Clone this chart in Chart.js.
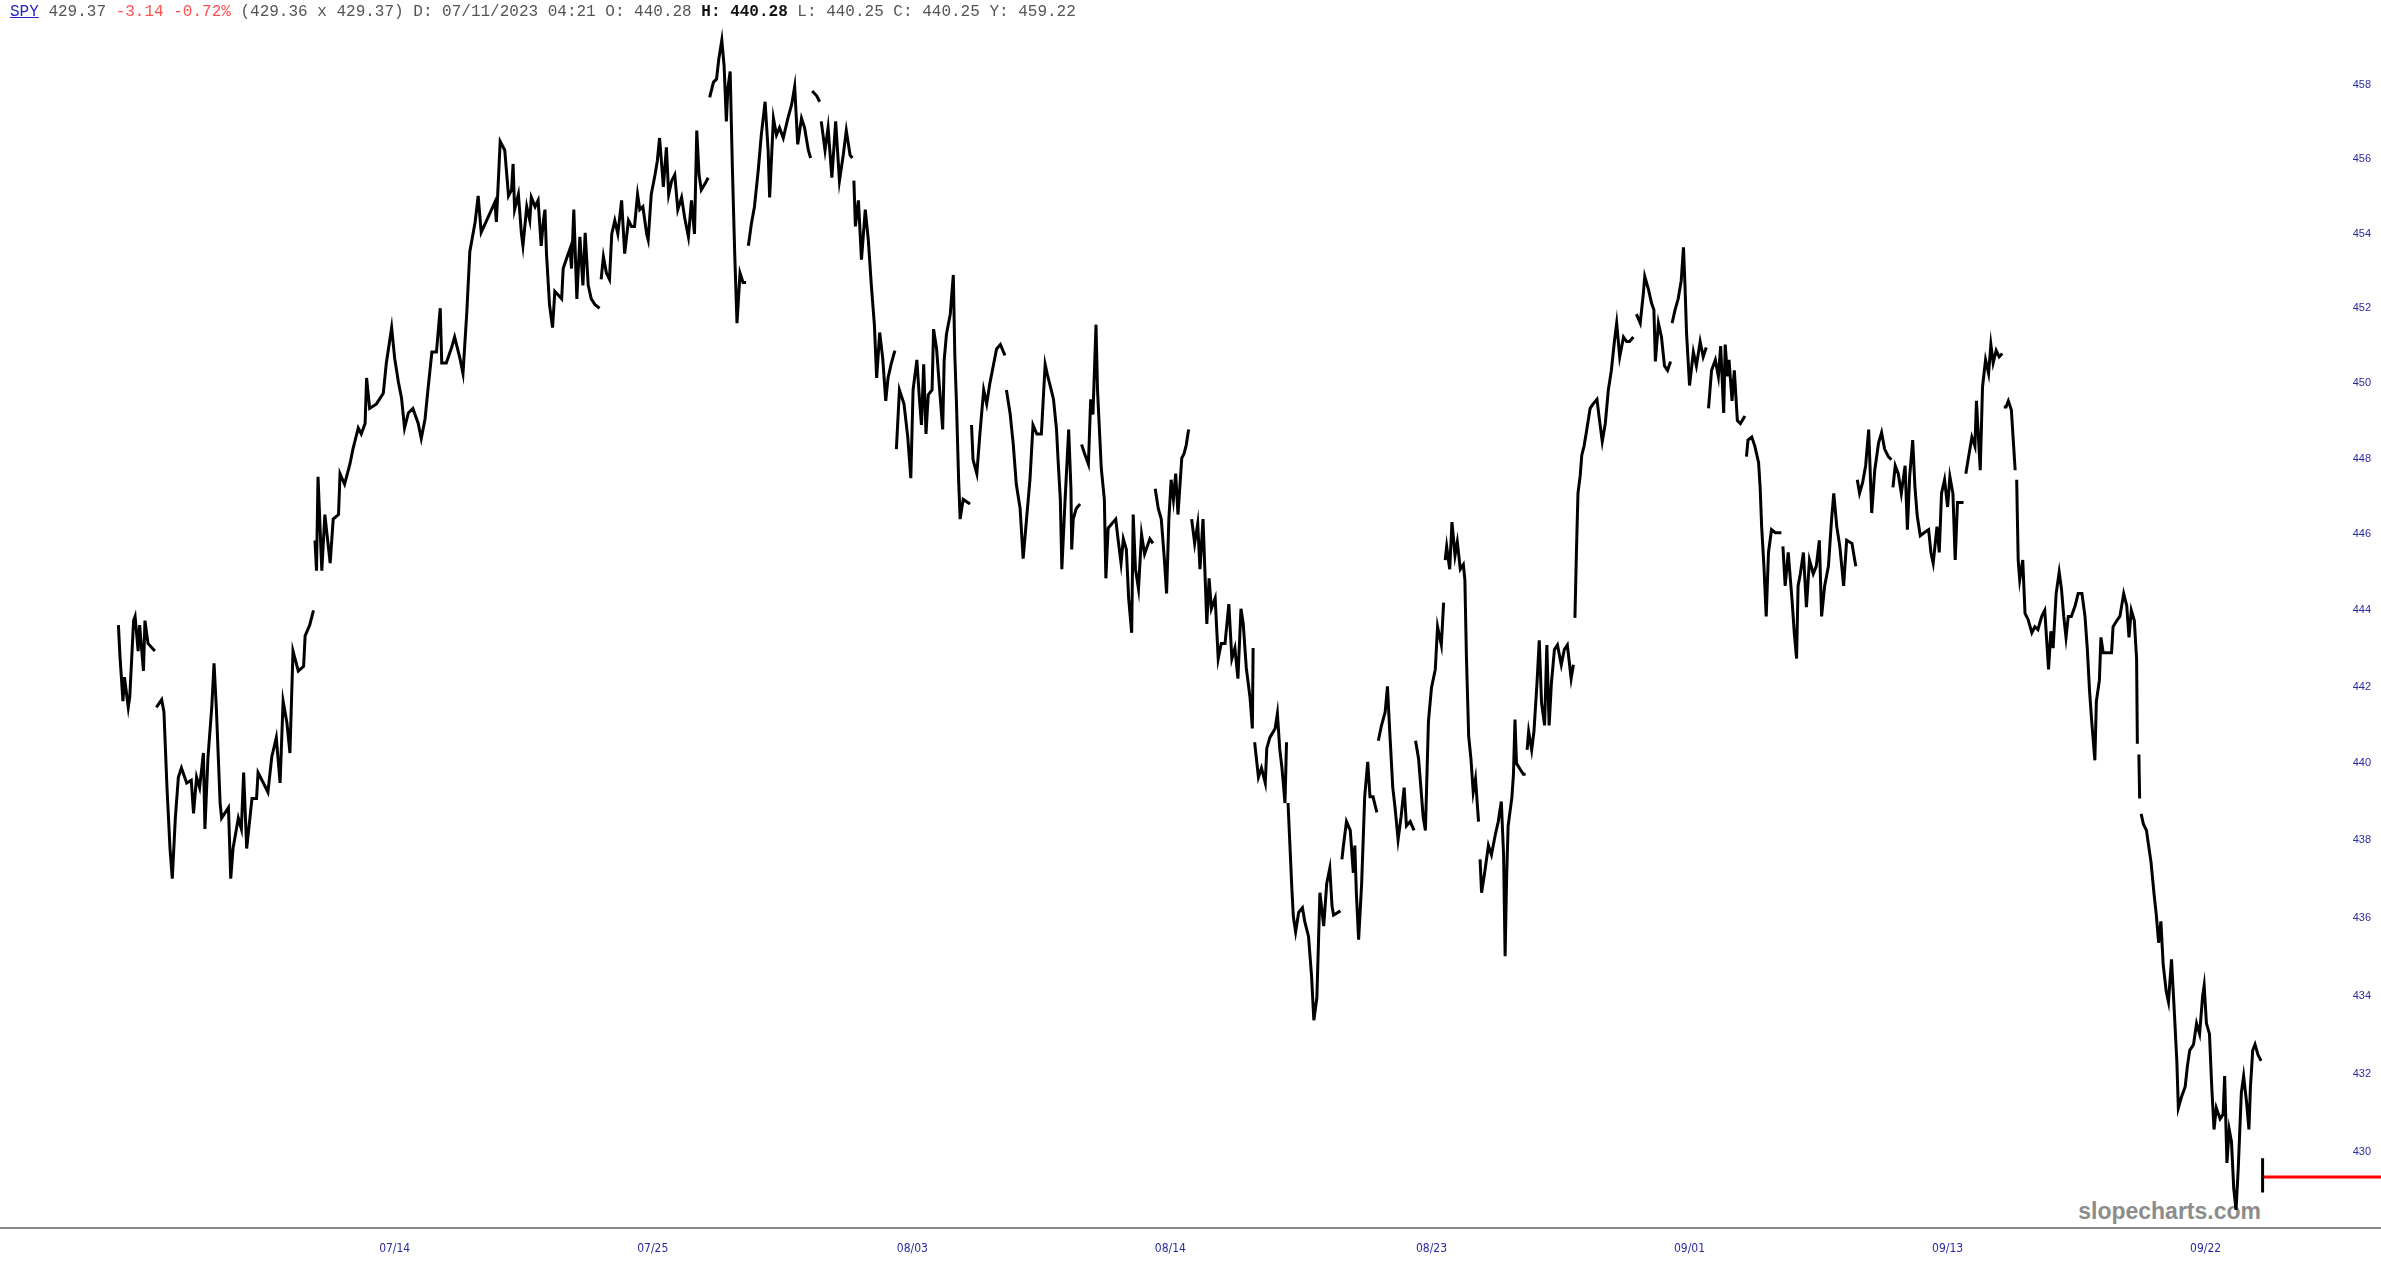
<!DOCTYPE html>
<html>
<head>
<meta charset="utf-8">
<title>SPY</title>
<script src="https://cdn.jsdelivr.net/npm/chart.js@4.4.0/dist/chart.umd.min.js"></script>
<style>
  html, body { margin: 0; padding: 0; background: #fff; }
  #wrap { position: relative; width: 2381px; height: 1269px; overflow: hidden; }
  #chart { position: absolute; left: 0; top: 0; z-index: 2; }
  #quote { position: absolute; left: 10px; top: 4px; z-index: 3;
           font: 16px/16px 'Liberation Mono', 'Courier New', monospace; color: #555; white-space: pre; }
  #quote .sym { color: #2323c8; text-decoration: underline; }
  #quote .neg { color: #ff5050; }
  #quote b { color: #111; }
  #mark { position: absolute; right: 120px; top: 1200px; z-index: 1;
          font: bold 23px/23px 'Liberation Sans', Arial, sans-serif; color: #8c8c8c; }
</style>
</head>
<body>
<div id="wrap">
  <div id="mark">slopecharts.com</div>
  <canvas id="chart" width="2381" height="1269"></canvas>
  <div id="quote"><span class="sym">SPY</span> 429.37 <span class="neg">-3.14 -0.72%</span> (429.36 x 429.37) D: 07/11/2023 04:21 O: 440.28 <b>H: 440.28</b> L: 440.25 C: 440.25 Y: 459.22</div>
</div>
<script>
// bar number (time index) , price ; null = session break
const julyPath = [
  [0,443.61],[2,442.81],[6,441.62],[8,442.25],[13,441.46],[15,441.74],[20,443.73],[22,443.84],[26,442.93],[28,443.61],
  [33,442.41],[35,443.73],[39,443.13],[48,442.93],[49,null],
  [50,441.46],[57,441.66],[60,441.34],[64,439.37],[68,437.79],[71,437.01],[75,438.58],[79,439.64],[83,439.88],[90,439.49],
  [96,439.56],[99,438.70],[103,439.64],[107,439.37],[112,440.27],[114,438.30],[118,440.16],[123,441.46],[126,442.61],[129,441.46],
  [134,438.97],[136,438.58],[145,438.85],[148,437.01],[151,437.79],[158,438.58],[162,438.30],[165,439.76],[169,437.79],[176,439.09],
  [182,439.09],[184,439.76],[191,439.49],[197,439.25],[202,440.16],[208,440.67],[213,439.49],[217,441.62],[222,441.06],[226,440.27],
  [230,442.93],[237,442.41],[244,442.53],[246,443.33],[252,443.61],[257,444.00],[258,null],
  [259,445.84],[261,445.04],[263,447.52],[268,445.04],[272,446.52],[279,445.24],[283,446.40],[290,446.52],[292,447.60],[298,447.32],
  [305,447.85],[309,448.25],[316,448.81],[320,448.65],[325,448.93],[327,450.14],[331,449.33],[340,449.45],[349,449.73],[353,450.54],
  [360,451.48],[364,450.66],[369,450.02],[373,449.61],[377,448.81],[382,449.21],[388,449.33],[395,448.93],[399,448.53],[404,449.05],
  [408,449.86],[413,450.83],[419,450.83],[424,452.00],[426,450.54],[432,450.54],[439,450.95],[443,451.23],[450,450.66],[454,450.26],
  [459,451.88],[463,453.51],[470,454.31],[474,455.01],[478,454.03],[487,454.43],[496,454.84],[498,454.31],[503,456.48],[509,456.24],
  [514,455.01],[518,455.17],[520,455.87],[522,454.64],[527,455.05],[531,453.99],[533,453.67],[538,454.72],[542,454.35],[544,454.97],
  [549,454.72],[553,454.89],[557,453.67],[560,454.35],[562,454.64],[564,453.46],[568,452.09],[572,451.48],[575,452.45],[584,452.25],
  [586,453.06],[590,453.30],[595,453.59],[597,453.06],[600,454.64],[604,452.25],[608,453.91],[612,452.61],[615,454.02],[619,452.61],
  [623,452.25],[628,452.09],[634,452.00],[635,null],
  [636,452.77],[639,453.38],[643,452.94],[647,452.77],[650,453.99],[654,454.35],[658,453.99],[663,454.89],[667,453.46],[672,454.35],
  [676,454.19],[680,454.19],[684,455.05],[687,454.64],[691,454.72],[696,453.99],[698,453.83],[702,455.05],[707,455.58],[710,455.95],
  [713,456.57],[716,455.79],[718,455.25],[722,456.32],[725,455.05],[729,455.42],[733,455.58],[737,454.64],[742,454.97],[746,454.43],
  [751,453.91],[755,454.89],[759,453.99],[762,456.77],[765,455.58],[768,455.17],[773,455.34],[777,455.50],[778,null],
  [779,457.67],[784,458.08],[788,458.16],[791,458.70],[795,459.22],[798,458.53],[801,457.02],[803,457.92],[806,458.37],[809,455.70],
  [812,453.46],[815,451.60],[819,452.94],[823,452.69],[827,452.69],[828,null],
  [830,453.67],[834,454.27],[838,454.72],[843,455.70],[847,456.65],[852,457.55],[856,456.24],[858,454.97],[863,457.10],[867,456.65],
  [871,456.85],[876,456.57],[882,457.10],[887,457.47],[891,457.96],[895,456.40],[900,457.10],[904,456.85],[909,456.24],[912,456.03],
  [913,null],[914,457.84],[920,457.71],[924,457.55]
];

const augustPath = [
  [925,null],[926,457.02],[931,456.24],[935,456.85],[940,455.50],[945,457.02],[950,455.42],[955,456.11],[959,456.77],[964,456.11],
  [967,456.03],[968,null],
  [969,455.42],[971,454.19],[975,454.89],[979,453.30],[984,454.64],[988,453.83],[992,452.61],[996,451.56],[999,450.14],[1003,451.35],
  [1007,450.66],[1011,449.53],[1014,450.14],[1018,450.50],[1023,450.87],[1024,null],
  [1025,448.25],[1029,449.82],[1035,449.45],[1040,448.57],[1044,447.48],[1047,449.82],[1052,450.62],[1055,449.69],[1058,448.89],[1061,450.50],
  [1064,448.65],[1067,449.69],[1072,449.82],[1074,451.44],[1078,450.91],[1082,449.82],[1086,448.77],[1088,450.62],[1091,451.31],[1096,451.84],
  [1100,452.89],[1102,450.74],[1104,449.57],[1107,447.44],[1109,446.40],[1113,446.92],[1122,446.80],[1123,null],
  [1124,448.89],[1126,447.97],[1131,447.60],[1135,448.65],[1140,449.82],[1144,449.45],[1148,449.98],[1153,450.50],[1157,450.91],[1162,451.03],
  [1168,450.74],[1169,null],
  [1170,449.82],[1175,449.17],[1179,448.37],[1183,447.32],[1188,446.68],[1192,445.36],[1197,446.52],[1201,447.44],[1205,448.89],[1210,448.65],
  [1216,448.65],[1221,450.50],[1224,450.22],[1229,449.82],[1232,449.57],[1236,448.77],[1238,447.97],[1241,446.92],[1243,445.08],[1247,446.80],
  [1252,448.77],[1255,447.20],[1256,445.60],[1258,446.40],[1262,446.68],[1267,446.80],[1268,null],
  [1269,448.37],[1273,448.13],[1278,447.85],[1281,449.57],[1284,449.17],[1288,451.56],[1290,449.82],[1295,447.73],[1299,446.92],[1301,444.84],
  [1304,446.16],[1309,446.28],[1314,446.40],[1317,445.88],[1321,445.24],[1324,445.88],[1328,445.60],[1331,444.32],[1335,443.41],[1337,446.52],
  [1340,445.08],[1344,444.56],[1348,446.00],[1352,445.48],[1359,445.88],[1363,445.76],[1364,null],
  [1366,447.20],[1370,446.68],[1374,446.40],[1378,445.36],[1381,444.44],[1384,446.40],[1387,447.44],[1390,446.92],[1393,447.60],[1396,446.52],
  [1401,448.01],[1404,448.13],[1407,448.37],[1410,448.77],[1411,null],
  [1414,446.40],[1418,445.76],[1422,446.28],[1425,445.08],[1429,446.40],[1434,443.64],[1437,444.84],[1440,444.04],[1445,444.32],[1449,442.73],
  [1453,443.13],[1458,443.13],[1463,444.16],[1467,442.73],[1471,443.01],[1475,442.21],[1479,444.04],[1482,443.64],[1486,442.49],[1491,441.70],
  [1494,440.91],[1495,443.01],[1496,null],
  [1497,440.55],[1502,439.64],[1506,439.88],[1511,439.49],[1513,440.39],[1517,440.67],[1524,440.91],[1527,441.30],[1530,440.39],[1533,439.88],
  [1537,438.97],[1539,440.55],[1540,null],
  [1541,438.97],[1546,436.77],[1548,436.03],[1551,435.64],[1555,436.14],[1560,436.26],[1563,435.91],[1568,435.52],[1572,434.50],[1575,433.37],
  [1579,433.95],[1583,436.65],[1588,435.79],[1592,436.89],[1596,437.28],[1599,436.30],[1601,436.07],[1610,436.18],[1611,null],
  [1612,437.51],[1614,437.87],[1618,438.49],[1623,438.26],[1627,437.16],[1629,437.87],[1631,436.65],[1634,435.44],[1638,436.89],[1642,439.13],
  [1646,440.04],[1649,439.13],[1653,439.13],[1658,438.73],[1659,null],
  [1660,440.59],[1664,440.98],[1669,441.34],[1672,442.01],[1675,440.83],[1679,439.37],[1682,438.85],[1686,438.02],[1690,438.62],[1694,439.37],
  [1697,438.38],[1702,438.49],[1707,438.26],[1708,null],
  [1709,440.59],[1713,440.12],[1717,439.13],[1719,438.62],[1722,438.26],[1726,441.10],[1730,441.97],[1735,442.45],[1738,443.57],[1743,443.09],
  [1746,444.20],[1747,null],
  [1748,445.32],[1750,445.68],[1754,445.08],[1757,446.32],[1761,445.44],[1764,445.80],[1768,445.08],[1772,445.20],[1774,444.80],[1776,442.81],
  [1779,440.71],[1782,440.12],[1785,439.25],[1788,439.60],[1792,438.49],[1793,null],
  [1794,437.51],[1796,436.65],[1800,437.16],[1805,437.87],[1809,437.63],[1814,438.14],[1818,438.49],[1822,439.01],[1825,437.63],[1827,435.01],
  [1829,437.04],[1831,438.38],[1836,439.13],[1838,439.72],[1840,441.14],[1842,440.00],[1847,439.84],[1851,439.72],[1854,439.72],[1855,null],
  [1856,440.35],[1858,440.83],[1862,440.35],[1865,440.83],[1869,442.09],[1872,443.21],[1875,441.58],[1879,440.99],[1882,443.09],[1885,440.99],
  [1888,442.09],[1892,442.97],[1896,443.09],[1901,442.57],[1905,442.97],[1909,443.09],[1914,442.21],[1917,442.57],[1918,null],
  [1919,443.80],[1921,445.56],[1923,447.08],[1926,447.56],[1928,448.09],[1931,448.33],[1934,448.69],[1939,449.33],[1943,449.45],[1948,449.57],
  [1951,449.08],[1955,448.45],[1959,448.93],[1963,449.82],[1967,450.34],[1971,451.11],[1974,451.60],[1978,450.70],[1983,451.23],[1987,451.11],
  [1991,451.11],[1996,451.23],[1997,null],
  [2000,451.84],[2005,451.60],[2009,452.37],[2011,452.85],[2016,452.49],[2020,452.13],[2023,451.96],[2025,450.58],[2029,451.60],[2033,451.23],
  [2037,450.46],[2041,450.34],[2045,450.58]
];

const septemberPath = [
  [2046,null],[2047,451.60],[2051,451.96],[2055,452.25],[2059,452.73],[2062,453.63],[2064,452.61],[2066,451.35],[2070,449.94],[2075,450.83],
  [2079,450.46],[2084,451.11],[2088,450.70],[2092,450.95],[2093,null],
  [2095,449.33],[2099,450.34],[2104,450.62],[2108,450.18],[2111,450.99],[2115,449.21],[2117,451.03],[2120,450.18],[2122,450.62],[2126,449.53],
  [2129,450.34],[2133,449.01],[2137,448.93],[2143,449.13],[2144,null],
  [2145,448.05],[2147,448.49],[2152,448.57],[2156,448.33],[2161,447.89],[2163,447.24],[2165,446.20],[2168,445.16],[2171,443.84],[2174,445.52],
  [2178,446.12],[2183,446.04],[2191,446.04],[2192,null],
  [2193,445.68],[2196,444.64],[2200,445.52],[2205,444.28],[2208,443.41],[2211,442.73],[2213,444.64],[2216,444.96],[2220,445.52],[2224,444.08],
  [2228,445.32],[2233,444.96],[2237,445.16],[2241,445.84],[2244,443.84],[2248,444.64],[2253,445.16],[2257,446.36],[2260,447.08],[2264,446.20],
  [2268,445.68],[2273,444.64],[2277,445.84],[2284,445.76],[2289,445.16],[2290,null],
  [2291,447.44],[2294,447.08],[2298,447.36],[2302,447.81],[2306,448.77],[2310,446.56],[2314,447.69],[2319,448.41],[2323,448.69],[2327,448.25],
  [2332,448.05],[2336,447.97],[2337,null],
  [2338,447.24],[2341,447.81],[2345,447.60],[2349,447.08],[2354,447.81],[2357,446.12],[2360,447.52],[2364,448.49],[2367,447.24],[2370,446.48],
  [2374,445.96],[2379,446.04],[2385,446.12],[2388,445.52],[2391,445.24],[2396,446.20],[2399,445.52],[2402,447.08],[2406,447.44],[2410,446.72],
  [2413,447.52],[2417,447.08],[2420,445.32],[2423,446.84],[2427,446.84],[2431,446.84],[2432,null],
  [2434,447.60],[2437,447.97],[2442,448.57],[2446,448.33],[2448,449.53],[2453,447.69],[2456,449.90],[2460,450.62],[2464,450.26],[2467,451.03],
  [2470,450.54],[2474,450.87],[2478,450.70],[2482,450.79],[2483,null],
  [2484,449.37],[2487,449.37],[2490,449.53],[2494,449.29],[2497,448.33],[2499,447.69],[2500,null],
  [2501,447.44],[2502,446.36],[2503,445.32],[2505,444.80],[2509,445.32],[2512,443.92],[2516,443.76],[2521,443.41],[2525,443.57],[2529,443.49],
  [2534,443.84],[2538,444.00],[2543,442.45],[2546,443.45],[2549,443.01],[2553,444.44],[2557,445.00],[2560,444.56],[2563,443.84],[2566,443.29],
  [2569,443.84],[2573,443.84],[2578,444.12],[2582,444.44],[2587,444.44],[2591,443.84],[2594,443.01],[2597,441.89],[2600,441.06],[2604,440.08],
  [2606,441.62],[2610,442.17],[2612,443.29],[2615,442.89],[2620,442.89],[2626,442.89],[2628,443.57],[2633,443.73],[2637,443.84],[2642,444.44],
  [2646,444.12],[2649,443.29],[2652,444.00],[2656,443.73],[2659,442.73],[2660,440.51],[2661,null],[2662,440.23],[2663,439.09],[2664,null],
  [2665,438.69],[2668,438.42],[2672,438.26],[2674,437.98],[2678,437.44],[2682,436.61],[2685,436.07],[2688,435.36],[2691,435.91],[2694,434.81],
  [2698,434.11],[2701,433.84],[2705,434.93],[2708,433.84],[2712,432.33],[2714,431.13],[2718,431.40],[2723,431.67],[2726,432.21],[2729,432.60],
  [2734,432.75],[2738,433.29],[2742,433.02],[2746,433.99],[2748,434.26],[2751,433.29],[2755,433.02],[2758,431.67],[2761,430.58],[2764,431.13],
  [2769,430.85],[2773,430.97],[2775,431.94],[2778,429.73],[2781,430.58],[2784,430.27],[2787,429.08],[2790,428.54],[2793,429.62],[2795,430.58],
  [2797,431.52],[2800,431.94],[2804,431.25],[2807,430.58],[2809,431.67],[2812,432.60],[2815,432.75],[2819,432.48],[2823,432.33],[2824,null],
  [2825,429.85],[2825,428.98]
];

const lastBar = 2825;
const lastPrice = 429.37;

const dateLabels = ['07/14', '07/25', '08/03', '08/14', '08/23', '09/01', '09/13', '09/22'];
const dateTickBars = [364, 704, 1046, 1386, 1730, 2070, 2410, 2750];
const priceTicks = [430, 432, 434, 436, 438, 440, 442, 444, 446, 448, 450, 452, 454, 456, 458];

// visible window of the chart
const xMin = -156, xMax = 2981;
const yMin = 428.08, yMax = 459.63;

const path = julyPath.concat(augustPath, septemberPath).map(p => ({ x: p[0], y: p[1] }));

const axisBlue = '#2a2aa0';

new Chart(document.getElementById('chart'), {
  type: 'line',
  data: {
    datasets: [
      {
        data: path,
        borderColor: '#000',
        borderWidth: 3,
        pointRadius: 0,
        tension: 0,
        spanGaps: false
      },
      {
        data: [{ x: lastBar, y: lastPrice }, { x: xMax, y: lastPrice }],
        borderColor: '#ff0000',
        borderWidth: 3,
        pointRadius: 0
      }
    ]
  },
  options: {
    responsive: false,
    animation: false,
    devicePixelRatio: 1,
    layout: { padding: { top: 25, left: 0, right: 0, bottom: 0 } },
    plugins: { legend: { display: false }, tooltip: { enabled: false } },
    scales: {
      x: {
        type: 'linear',
        min: xMin,
        max: xMax,
        grid: { display: false, drawTicks: false },
        border: { display: true, color: '#888', width: 2 },
        ticks: {
          autoSkip: false,
          maxRotation: 0,
          padding: 14,
          color: axisBlue,
          font: { family: "'Liberation Sans Narrow', 'DejaVu Sans Condensed', sans-serif", size: 12 },
          callback: v => dateLabels[dateTickBars.indexOf(v)]
        },
        afterBuildTicks: s => { s.ticks = dateTickBars.map(v => ({ value: v })); },
        afterFit: s => { s.height = 41; }
      },
      y: {
        type: 'logarithmic',
        position: 'right',
        min: yMin,
        max: yMax,
        grid: { display: false, drawTicks: false },
        border: { display: false },
        ticks: {
          mirror: true,
          padding: -10,
          autoSkip: false,
          color: axisBlue,
          font: { family: "'Liberation Sans', Arial, sans-serif", size: 11 },
          callback: v => String(v)
        },
        afterBuildTicks: s => { s.ticks = priceTicks.map(v => ({ value: v })); },
        afterFit: s => { s.width = 0; }
      }
    }
  }
});
</script>
</body>
</html>
